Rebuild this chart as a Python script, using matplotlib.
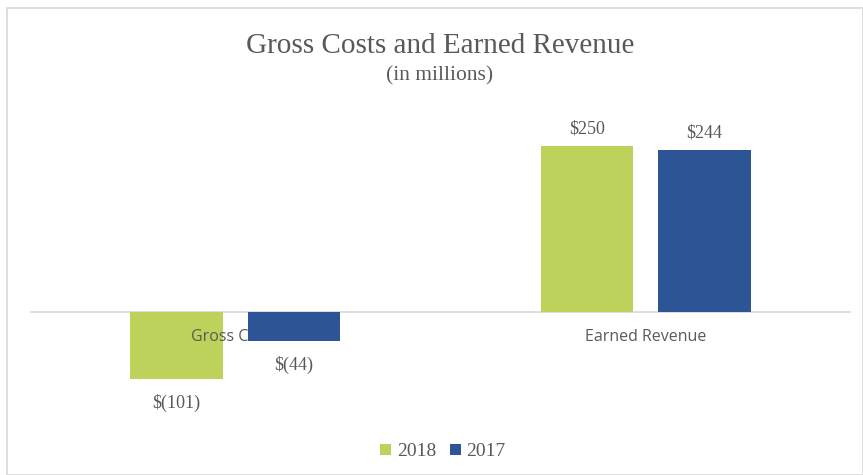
import matplotlib.pyplot as plt
from matplotlib.patches import Rectangle
import numpy as np

categories = ["Gross Costs", "Earned Revenue"]
series_names = ["2018", "2017"]
values_2018 = [-101, 250]
values_2017 = [-44, 244]
labels_2018 = ["$(101)", "$250"]
labels_2017 = ["$(44)", "$244"]

green = "#BDD25A"
blue = "#2D5596"
gray_text = "#595959"
serif = ["Liberation Serif", "DejaVu Serif"]
sans = ["Open Sans", "DejaVu Sans"]

W, H = 863, 475
fig = plt.figure(figsize=(W / 100, H / 100), dpi=100)

# chart border
fig.patches.append(Rectangle((7 / W, 0), 1 - 7 / W, 1 - 8 / H, transform=fig.transFigure,
                             fill=False, edgecolor="#d9d9d9", linewidth=1.2))

# plot area in pixels: x 30..851, zero line at y=312
ymin, ymax = -150, 300
pxu = 0.664
top_px = 312 - ymax * pxu
bot_px = 312 - ymin * pxu
ax = fig.add_axes([30 / W, 1 - bot_px / H, 821 / W, (bot_px - top_px) / H])
ax.set_xlim(-0.5, 1.5)
ax.set_ylim(ymin, ymax)
ax.axis("off")

x = np.arange(len(categories))
width = 0.225
off = 0.143

ax.axhline(0, color="#d9d9d9", linewidth=1.2, zorder=1)
ax.bar(x - off, values_2018, width, color=green, label=series_names[0], zorder=2)
ax.bar(x + off, values_2017, width, color=blue, label=series_names[1], zorder=4)

# category labels sit just under the zero line
for i, c in enumerate(categories):
    ax.annotate(c, (x[i], 0), xytext=(0, -18), textcoords="offset points",
                ha="center", va="center", fontsize=11.5, color=gray_text,
                family=sans, zorder=3)

# data labels
for i in range(len(categories)):
    for xv, v, lab in [(x[i] - off, values_2018[i], labels_2018[i]),
                       (x[i] + off, values_2017[i], labels_2017[i])]:
        dy = 12 if v > 0 else -17
        ax.annotate(lab, (xv, v), xytext=(0, dy), textcoords="offset points",
                    ha="center", va="center", fontsize=13, color=gray_text,
                    family=serif, zorder=5)

fig.text(440 / W, 1 - 46 / H, "Gross Costs and Earned Revenue", ha="center", va="center",
         fontsize=21, color=gray_text, family=serif)
fig.text(440 / W, 1 - 76 / H, "(in millions)", ha="center", va="center",
         fontsize=15.5, color=gray_text, family=serif)

leg = fig.legend(loc="center", bbox_to_anchor=(443 / W, 1 - 452 / H), ncol=2, frameon=False,
                 prop={"family": serif, "size": 14}, handlelength=0.55, handleheight=0.55,
                 handletextpad=0.3, columnspacing=0.7)
for t in leg.get_texts():
    t.set_color(gray_text)

fig.savefig("out.png", dpi=100)
